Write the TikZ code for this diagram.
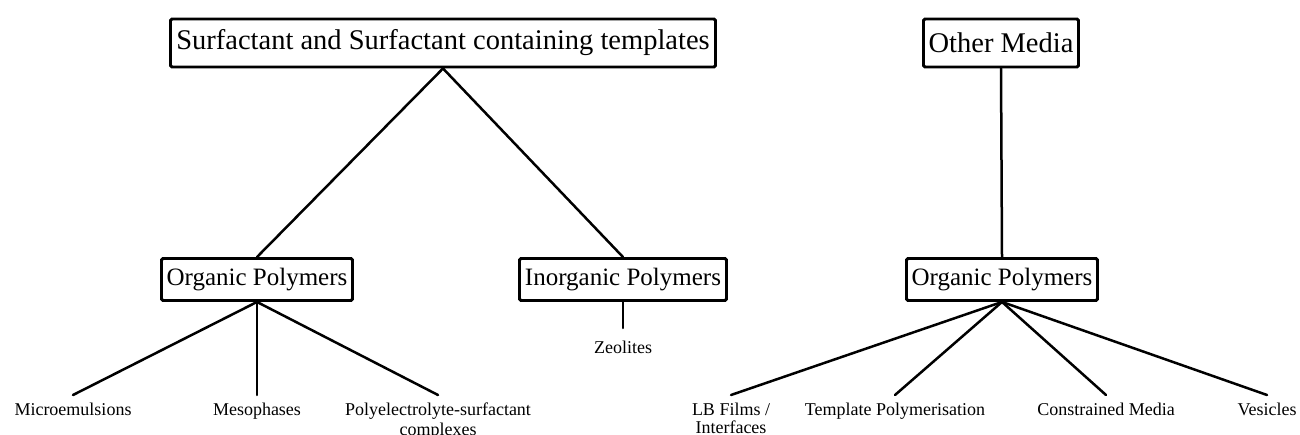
\documentclass[tikz,border=0pt]{standalone}
\usepackage{fontspec}
\setmainfont{Liberation Serif}
\begin{document}
\begin{tikzpicture}[x=1pt,y=-1pt,
  box/.style={draw, line width=2.9pt, rounded corners=1.5pt, inner sep=0pt, align=center},
  lab/.style={font=\fontsize{18}{20}\selectfont, inner xsep=0pt, inner ysep=8pt, anchor=north, align=center},
  conn/.style={line width=2.5pt, line cap=round}]
\useasboundingbox[fill=white] (0,0) rectangle (1300,435);
% boxes
\node[box, minimum width=545pt, minimum height=48pt, font=\fontsize{28.5}{30}\selectfont] (surf) at (443,43) {Surfactant and Surfactant containing templates};
\node[box, minimum width=155pt, minimum height=48pt, font=\fontsize{28.5}{30}\selectfont] (other) at (1001,43) {Other Media};
\node[box, minimum width=191pt, minimum height=42pt, font=\fontsize{25}{27}\selectfont] (orgL) at (257,279.5) {Organic Polymers};
\node[box, minimum width=207pt, minimum height=42pt, font=\fontsize{25}{27}\selectfont] (inorg) at (623,279.5) {Inorganic Polymers};
\node[box, minimum width=191pt, minimum height=42pt, font=\fontsize{25}{27}\selectfont] (orgR) at (1002,279.5) {Organic Polymers};
% leaf labels
\node[lab] (micro) at (73,395) {Microemulsions};
\node[lab] (meso) at (257,395) {Mesophases};
\node[lab] (poly) at (438,395) {Polyelectrolyte-surfactant\\complexes};
\node[lab, inner ysep=13pt] (zeo) at (623,328) {Zeolites};
\node[lab] (lb) at (731,395) {LB Films /\\[-2pt]Interfaces};
\node[lab] (tpl) at (895,395) {Template Polymerisation};
\node[lab] (con) at (1106,395) {Constrained Media};
\node[lab] (ves) at (1267,395) {Vesicles};
% connectors
\draw[conn] (surf.south) -- (orgL.north);
\draw[conn] (surf.south) -- (inorg.north);
\draw[conn] (other.south) -- (orgR.north);
\draw[conn] (orgL.south) -- (micro.north);
\draw[conn] (orgL.south) -- (meso.north);
\draw[conn] (orgL.south) -- (poly.north);
\draw[conn] (inorg.south) -- (zeo.north);
\draw[conn] (orgR.south) -- (lb.north);
\draw[conn] (orgR.south) -- (tpl.north);
\draw[conn] (orgR.south) -- (con.north);
\draw[conn] (orgR.south) -- (ves.north);
\end{tikzpicture}
\end{document}
